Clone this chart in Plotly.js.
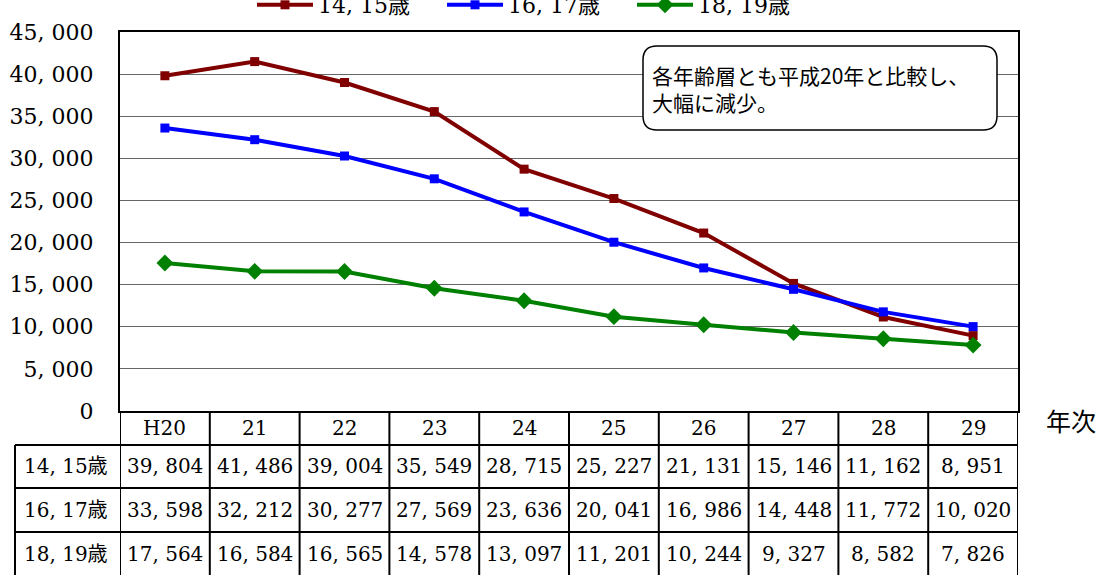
<!DOCTYPE html>
<html>
<head>
<meta charset="utf-8">
<script src="https://cdn.plot.ly/plotly-3.0.1.min.js"></script>
<style>html,body{margin:0;padding:0;background:#fff;}#chart{width:1106px;height:575px;}</style>
</head>
<body>
<div id="chart"></div>
<script>
// ---- data ----
const years = ['H20','21','22','23','24','25','26','27','28','29'];
const seriesNames = ['14, 15歳','16, 17歳','18, 19歳'];
const s1415 = [39804,41486,39004,35549,28715,25227,21131,15146,11162,8951];
const s1617 = [33598,32212,30277,27569,23636,20041,16986,14448,11772,10020];
const s1819 = [17564,16584,16565,14578,13097,11201,10244,9327,8582,7826];
const yTicks = [0,5000,10000,15000,20000,25000,30000,35000,40000,45000];
const noteText = '各年齢層とも平成20年と比較し、<br>大幅に減少。';
const xAxisLabel = '年次';

// ---- styling ----
const W = 1106, H = 575;
const M = {l:120, r:88, t:32, b:164, autoexpand:false};
const PW = W - M.l - M.r, PH = H - M.t - M.b;
const px2x = p => (p - M.l) / PW;
const px2y = p => (H - M.b - p) / PH;
const serif = '"DejaVu Serif", "Noto Sans CJK JP", serif';
const gothic = '"Noto Sans CJK JP", sans-serif';
const fmt = n => String(n).replace(/\B(?=(\d{3})+(?!\d))/g, ', ');

const series = [s1415, s1617, s1819];
const colors = ['#800000', '#0000ff', '#008000'];
const symbols = ['square', 'square', 'diamond'];
const msizes = [9, 9, 13];

const traces = series.map((s, i) => ({
  type: 'scatter', mode: 'lines+markers',
  x: years, y: s, name: seriesNames[i],
  line: {color: colors[i], width: 4},
  marker: {color: colors[i], symbol: symbols[i], size: msizes[i]}
}));

// ---- table (header + rows) ----
const rowLines = [445, 488, 532];
const rowCenters = [466, 510, 554];
const headerCenter = 428;
const leftBorder = 15;
const shapes = [];
const annotations = [];
const black = {color: '#000', width: 2};
const cellFont = {family:serif, size:20, color:'#000'};
for (let i = 0; i <= years.length; i++) {
  shapes.push({type:'line', xref:'x', yref:'paper', x0:i-0.5, x1:i-0.5, y0:0, y1:px2y(H+10), line:black, layer:'above'});
}
shapes.push({type:'line', xref:'paper', yref:'paper', x0:px2x(leftBorder), x1:px2x(leftBorder), y0:px2y(rowLines[0]), y1:px2y(H+10), line:black});
rowLines.forEach(r => shapes.push({type:'line', xref:'paper', yref:'paper', x0:px2x(leftBorder), x1:1, y0:px2y(r), y1:px2y(r), line:black}));

const cell = (xref, x, y, text, font) => ({xref, yref:'paper', x, y, xanchor:'center', yanchor:'middle', text, showarrow:false, font});
years.forEach((yr, i) => annotations.push(cell('x', i, px2y(headerCenter), yr, cellFont)));
series.forEach((s, r) => {
  annotations.push(cell('paper', px2x(66), px2y(rowCenters[r]), seriesNames[r], cellFont));
  s.forEach((v, i) => annotations.push(cell('x', i, px2y(rowCenters[r]), fmt(v), cellFont)));
});
annotations.push(cell('paper', px2x(1071), px2y(420), xAxisLabel, {family:gothic, size:25, color:'#000'}));

// ---- note box ----
const bx0 = px2x(643), bx1 = px2x(997), by0 = px2y(46), by1 = px2y(130);
const rx = 14 / PW, ry = 14 / PH;
const pth = `M${bx0+rx},${by0} L${bx1-rx},${by0} Q${bx1},${by0} ${bx1},${by0-ry} L${bx1},${by1+ry} Q${bx1},${by1} ${bx1-rx},${by1} L${bx0+rx},${by1} Q${bx0},${by1} ${bx0},${by1+ry} L${bx0},${by0-ry} Q${bx0},${by0} ${bx0+rx},${by0} Z`;
shapes.push({type:'path', xref:'paper', yref:'paper', path:pth, fillcolor:'#fff', line:{color:'#000', width:1.5}, layer:'above'});
annotations.push({xref:'paper', yref:'paper', x:px2x(650), y:px2y(88), xanchor:'left', yanchor:'middle', align:'left', text:noteText, showarrow:false, font:{family:gothic, size:21, color:'#000'}});

const layout = {
  width: W, height: H, margin: M,
  paper_bgcolor: '#fff', plot_bgcolor: '#fff',
  showlegend: true,
  legend: {orientation:'h', x:px2x(252), xanchor:'left', y:px2y(5), yanchor:'middle', itemwidth:56,
           font:{family:serif, size:22, color:'#000'}, entrywidth:119, bgcolor:'rgba(0,0,0,0)'},
  xaxis: {type:'category', range:[-0.5, years.length-0.5], showticklabels:false, ticks:'', automargin:false,
          showgrid:false, showline:true, mirror:true, linecolor:'#000', linewidth:2, zeroline:false, fixedrange:true},
  yaxis: {range:[0, 45000], tickvals:yTicks, ticktext:yTicks.map(fmt), ticks:'', ticklabelstandoff:20, automargin:false,
          tickfont:{family:serif, size:22, color:'#000'},
          showgrid:true, gridcolor:'#666666', gridwidth:1, zeroline:false,
          showline:true, mirror:true, linecolor:'#000', linewidth:2, fixedrange:true},
  shapes: shapes, annotations: annotations
};
Plotly.newPlot('chart', traces, layout, {displayModeBar:false, staticPlot:true});
</script>
</body>
</html>
